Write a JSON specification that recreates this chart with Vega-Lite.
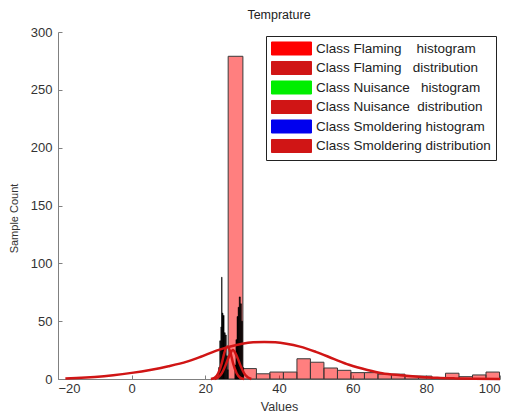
{
  "$schema": "https://vega.github.io/schema/vega-lite/v6.json",
  "width": 442,
  "height": 347,
  "autosize": {"type": "none"},
  "padding": {"left": 58, "top": 32, "right": 10, "bottom": 38},
  "title": {"text": "Temprature", "fontSize": 12.5, "font": "Liberation Sans", "fontWeight": "normal", "offset": 5, "color": "#222222"},
  "config": {
    "view": {"stroke": null},
    "font": "Liberation Sans",
    "axis": {"grid": false, "domainColor": "#808080", "tickColor": "#808080", "labelColor": "#333333", "titleColor": "#333333", "labelFont": "Liberation Sans", "titleFont": "Liberation Sans", "titleFontWeight": "normal"},
    "legend": {
      "orient": "top-right",
      "offset": 4,
      "padding": 5,
      "strokeColor": "#222222",
      "fillColor": "white",
      "labelFontSize": 13.5,
      "labelFont": "Liberation Sans",
      "labelColor": "#222222",
      "labelLimit": 400,
      "labelOffset": 30,
      "rowPadding": 0.5,
      "symbolSize": 196,
      "symbolOpacity": 1,
      "symbolType": "M-1,-0.93H4.71V0.93H-1Z",
      "symbolStrokeColor": "#222222",
      "symbolStrokeWidth": 1
    }
  },
  "datasets": {
    "flaming_hist": [
      {"lo": 26.2, "hi": 30.2, "count": 279},
      {"lo": 30.2, "hi": 33.87, "count": 9},
      {"lo": 33.87, "hi": 37.53, "count": 4.5},
      {"lo": 37.53, "hi": 41.2, "count": 6},
      {"lo": 41.2, "hi": 44.87, "count": 6},
      {"lo": 44.87, "hi": 48.53, "count": 17.5},
      {"lo": 48.53, "hi": 52.2, "count": 14.5},
      {"lo": 52.2, "hi": 55.87, "count": 9.5},
      {"lo": 55.87, "hi": 59.53, "count": 7.5},
      {"lo": 59.53, "hi": 63.2, "count": 5.5},
      {"lo": 63.2, "hi": 66.87, "count": 5.5},
      {"lo": 66.87, "hi": 70.53, "count": 4.2},
      {"lo": 70.53, "hi": 74.2, "count": 4.2},
      {"lo": 74.2, "hi": 77.87, "count": 2.5},
      {"lo": 77.87, "hi": 81.53, "count": 2.5},
      {"lo": 81.53, "hi": 85.2, "count": 1},
      {"lo": 85.2, "hi": 88.87, "count": 5},
      {"lo": 88.87, "hi": 92.53, "count": 2},
      {"lo": 92.53, "hi": 96.2, "count": 3.5},
      {"lo": 96.2, "hi": 99.87, "count": 6}
    ],
    "black_hist": [
      {"lo": 23.6, "hi": 23.9, "count": 10},
      {"lo": 23.9, "hi": 24.2, "count": 33},
      {"lo": 24.2, "hi": 24.4, "count": 45},
      {"lo": 24.4, "hi": 24.55, "count": 88},
      {"lo": 24.55, "hi": 24.8, "count": 57},
      {"lo": 24.8, "hi": 25.1, "count": 55},
      {"lo": 25.1, "hi": 25.4, "count": 40},
      {"lo": 25.4, "hi": 25.7, "count": 38},
      {"lo": 25.7, "hi": 26.0, "count": 20},
      {"lo": 26.0, "hi": 26.2, "count": 8},
      {"lo": 28.0, "hi": 28.3, "count": 12},
      {"lo": 28.3, "hi": 28.6, "count": 34},
      {"lo": 28.6, "hi": 28.9, "count": 54},
      {"lo": 28.9, "hi": 29.2, "count": 62},
      {"lo": 29.2, "hi": 29.5, "count": 71},
      {"lo": 29.5, "hi": 29.8, "count": 65},
      {"lo": 29.8, "hi": 30.1, "count": 50},
      {"lo": 30.1, "hi": 30.4, "count": 10}
    ],
    "curves": [
      {"series": "Class Flaming\u00a0\u00a0\u00a0distribution", "v": -18, "count": 0.4},
      {"series": "Class Flaming\u00a0\u00a0\u00a0distribution", "v": -15, "count": 0.8},
      {"series": "Class Flaming\u00a0\u00a0\u00a0distribution", "v": -10, "count": 1.8},
      {"series": "Class Flaming\u00a0\u00a0\u00a0distribution", "v": -5, "count": 3.3},
      {"series": "Class Flaming\u00a0\u00a0\u00a0distribution", "v": 0, "count": 5.3},
      {"series": "Class Flaming\u00a0\u00a0\u00a0distribution", "v": 5, "count": 7.8},
      {"series": "Class Flaming\u00a0\u00a0\u00a0distribution", "v": 10, "count": 11},
      {"series": "Class Flaming\u00a0\u00a0\u00a0distribution", "v": 15, "count": 15},
      {"series": "Class Flaming\u00a0\u00a0\u00a0distribution", "v": 18.6, "count": 19},
      {"series": "Class Flaming\u00a0\u00a0\u00a0distribution", "v": 23, "count": 24.5},
      {"series": "Class Flaming\u00a0\u00a0\u00a0distribution", "v": 26, "count": 27.5},
      {"series": "Class Flaming\u00a0\u00a0\u00a0distribution", "v": 30, "count": 30.5},
      {"series": "Class Flaming\u00a0\u00a0\u00a0distribution", "v": 33, "count": 31.7},
      {"series": "Class Flaming\u00a0\u00a0\u00a0distribution", "v": 36, "count": 32},
      {"series": "Class Flaming\u00a0\u00a0\u00a0distribution", "v": 39, "count": 31.7},
      {"series": "Class Flaming\u00a0\u00a0\u00a0distribution", "v": 42, "count": 30.5},
      {"series": "Class Flaming\u00a0\u00a0\u00a0distribution", "v": 45.7, "count": 28},
      {"series": "Class Flaming\u00a0\u00a0\u00a0distribution", "v": 50, "count": 23.5},
      {"series": "Class Flaming\u00a0\u00a0\u00a0distribution", "v": 55, "count": 17.2},
      {"series": "Class Flaming\u00a0\u00a0\u00a0distribution", "v": 59, "count": 12.3},
      {"series": "Class Flaming\u00a0\u00a0\u00a0distribution", "v": 64, "count": 7.8},
      {"series": "Class Flaming\u00a0\u00a0\u00a0distribution", "v": 68, "count": 5},
      {"series": "Class Flaming\u00a0\u00a0\u00a0distribution", "v": 73, "count": 3.3},
      {"series": "Class Flaming\u00a0\u00a0\u00a0distribution", "v": 78, "count": 2},
      {"series": "Class Flaming\u00a0\u00a0\u00a0distribution", "v": 83, "count": 1},
      {"series": "Class Flaming\u00a0\u00a0\u00a0distribution", "v": 88, "count": 0.5},
      {"series": "Class Flaming\u00a0\u00a0\u00a0distribution", "v": 93, "count": 0.2},
      {"series": "Class Flaming\u00a0\u00a0\u00a0distribution", "v": 100, "count": 0.05},
      {"series": "Class Nuisance\u00a0\u00a0distribution", "v": 21.5, "count": 0},
      {"series": "Class Nuisance\u00a0\u00a0distribution", "v": 22.5, "count": 1},
      {"series": "Class Nuisance\u00a0\u00a0distribution", "v": 23.5, "count": 5},
      {"series": "Class Nuisance\u00a0\u00a0distribution", "v": 24.5, "count": 14},
      {"series": "Class Nuisance\u00a0\u00a0distribution", "v": 25.2, "count": 23},
      {"series": "Class Nuisance\u00a0\u00a0distribution", "v": 26, "count": 28},
      {"series": "Class Nuisance\u00a0\u00a0distribution", "v": 26.8, "count": 23},
      {"series": "Class Nuisance\u00a0\u00a0distribution", "v": 27.5, "count": 14},
      {"series": "Class Nuisance\u00a0\u00a0distribution", "v": 28.5, "count": 5},
      {"series": "Class Nuisance\u00a0\u00a0distribution", "v": 29.5, "count": 1},
      {"series": "Class Nuisance\u00a0\u00a0distribution", "v": 30.5, "count": 0},
      {"series": "Class Smoldering distribution", "v": 22.5, "count": 0},
      {"series": "Class Smoldering distribution", "v": 23.5, "count": 1.5},
      {"series": "Class Smoldering distribution", "v": 24.5, "count": 5},
      {"series": "Class Smoldering distribution", "v": 25.5, "count": 12},
      {"series": "Class Smoldering distribution", "v": 26.5, "count": 20},
      {"series": "Class Smoldering distribution", "v": 27.5, "count": 25},
      {"series": "Class Smoldering distribution", "v": 28.5, "count": 20},
      {"series": "Class Smoldering distribution", "v": 29.5, "count": 12},
      {"series": "Class Smoldering distribution", "v": 30.5, "count": 5},
      {"series": "Class Smoldering distribution", "v": 31.5, "count": 1.5},
      {"series": "Class Smoldering distribution", "v": 32.5, "count": 0}
    ]
  },
  "layer": [
    {
      "data": {"name": "flaming_hist"},
      "mark": {"type": "bar", "fillOpacity": 0.5, "stroke": "#3a3a3a", "strokeWidth": 1},
      "encoding": {
        "x": {"field": "lo", "type": "quantitative", "scale": {"domain": [-20, 100], "nice": false, "zero": false},
          "axis": {"title": "Values", "values": [-20, 0, 20, 40, 60, 80, 100], "tickSize": -4, "labelPadding": 7, "labelFontSize": 13, "titleFontSize": 12.5, "titlePadding": 5}},
        "x2": {"field": "hi"},
        "y": {"field": "count", "type": "quantitative", "scale": {"domain": [0, 300], "nice": false},
          "axis": {"title": "Sample Count", "values": [0, 50, 100, 150, 200, 250, 300], "tickSize": -4, "labelPadding": 10, "labelFontSize": 13, "titleFontSize": 11, "titleX": -44, "titleY": 186, "titleBaseline": "middle"}},
        "y2": {"datum": 0},
        "color": {
          "datum": "Class Flaming\u00a0\u00a0\u00a0\u00a0histogram",
          "type": "nominal",
          "title": null,
          "scale": {
            "domain": [
              "Class Flaming\u00a0\u00a0\u00a0\u00a0histogram",
              "Class Flaming\u00a0\u00a0\u00a0distribution",
              "Class Nuisance\u00a0\u00a0\u00a0histogram",
              "Class Nuisance\u00a0\u00a0distribution",
              "Class Smoldering histogram",
              "Class Smoldering distribution"
            ],
            "range": ["#ff0000", "#d01515", "#00ee00", "#d01515", "#0000ee", "#d01515"]
          },
          "legend": {"title": null, "symbolType": "M-1,-0.93H4.71V0.93H-1Z"}
        }
      }
    },
    {
      "data": {"name": "black_hist"},
      "mark": {"type": "bar", "color": "#000000", "stroke": "#000000", "strokeWidth": 0.5},
      "encoding": {
        "x": {"field": "lo", "type": "quantitative"},
        "x2": {"field": "hi"},
        "y": {"field": "count", "type": "quantitative"},
        "y2": {"datum": 0}
      }
    },
    {
      "data": {"name": "curves"},
      "mark": {"type": "line", "strokeWidth": 2.5, "interpolate": "monotone"},
      "encoding": {
        "x": {"field": "v", "type": "quantitative"},
        "y": {"field": "count", "type": "quantitative"},
        "color": {"field": "series", "type": "nominal", "title": null, "legend": {"title": null, "symbolType": "M-1,-0.93H4.71V0.93H-1Z"}},
        "detail": {"field": "series"}
      }
    }
  ]
}
